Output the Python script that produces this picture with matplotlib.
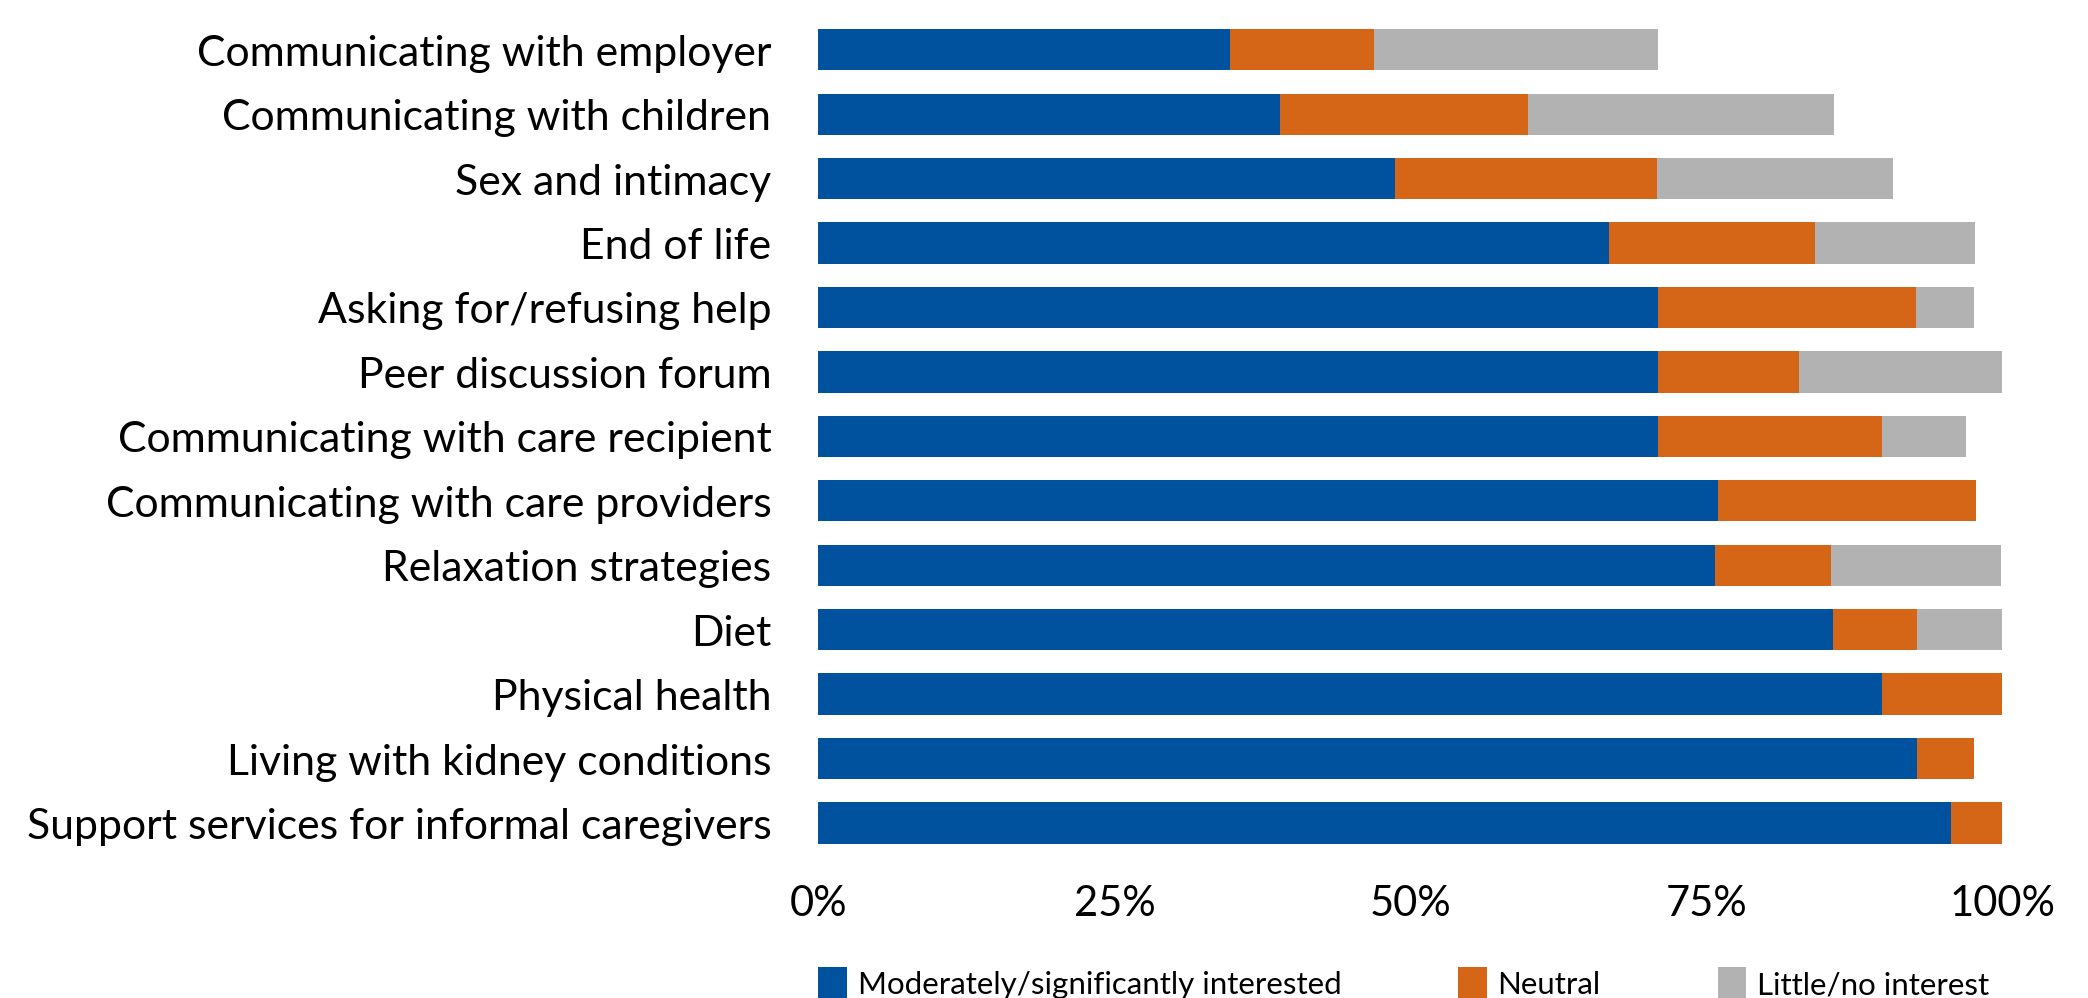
import matplotlib
matplotlib.use("Agg")
import matplotlib.pyplot as plt
import numpy as np

plt.rcParams['font.family'] = ['Lato', 'DejaVu Sans']

topics = [
    "Communicating with employer",
    "Communicating with children",
    "Sex and intimacy",
    "End of life",
    "Asking for/refusing help",
    "Peer discussion forum",
    "Communicating with care recipient",
    "Communicating with care providers",
    "Relaxation strategies",
    "Diet",
    "Physical health",
    "Living with kidney conditions",
    "Support services for informal caregivers",
]
# percentages
interested = [34.8, 39.0, 48.7, 66.8, 70.9, 70.9, 70.9, 76.0, 75.7, 85.7, 89.8, 92.8, 95.7]
neutral = [12.1, 20.9, 22.1, 17.4, 21.8, 11.9, 18.9, 21.8, 9.8, 7.1, 10.2, 4.8, 4.3]
no_interest = [24.0, 25.9, 20.0, 13.5, 4.9, 17.2, 7.1, 0.0, 14.4, 7.2, 0.0, 0.0, 0.0]

series_names = ["Moderately/significantly interested", "Neutral", "Little/no interest"]
colors = ["#00529F", "#D56517", "#B2B2B2"]

fig = plt.figure(figsize=(20.88, 9.985), dpi=100)
ax = fig.add_axes([0.392, 0.143, 0.567, 0.839])

y = np.arange(len(topics))
left = np.zeros(len(topics))
for vals, name, c in zip([interested, neutral, no_interest], series_names, colors):
    vals = np.array(vals)
    ax.barh(y, vals, left=left, height=0.64, color=c, label=name)
    left += vals

ax.set_ylim(-0.5, len(topics) - 0.5)
ax.invert_yaxis()
ax.set_xlim(0, 100)
ax.set_yticks(y)
ax.set_yticklabels(topics, fontsize=30.8)
ax.set_xticks([0, 25, 50, 75, 100])
ax.set_xticklabels(["0%", "25%", "50%", "75%", "100%"], fontsize=30)
ax.tick_params(axis='y', length=0, pad=34)
ax.tick_params(axis='x', length=0, pad=21)
for s in ax.spines.values():
    s.set_visible(False)

fig.legend(loc='upper left', bbox_to_anchor=(0.392, 0.031), ncol=3, frameon=False,
           fontsize=22.5, borderpad=0, borderaxespad=0, handlelength=0.9, handleheight=1.2,
           handletextpad=0.35, columnspacing=3.75)

fig.savefig("out.png", dpi=100)
